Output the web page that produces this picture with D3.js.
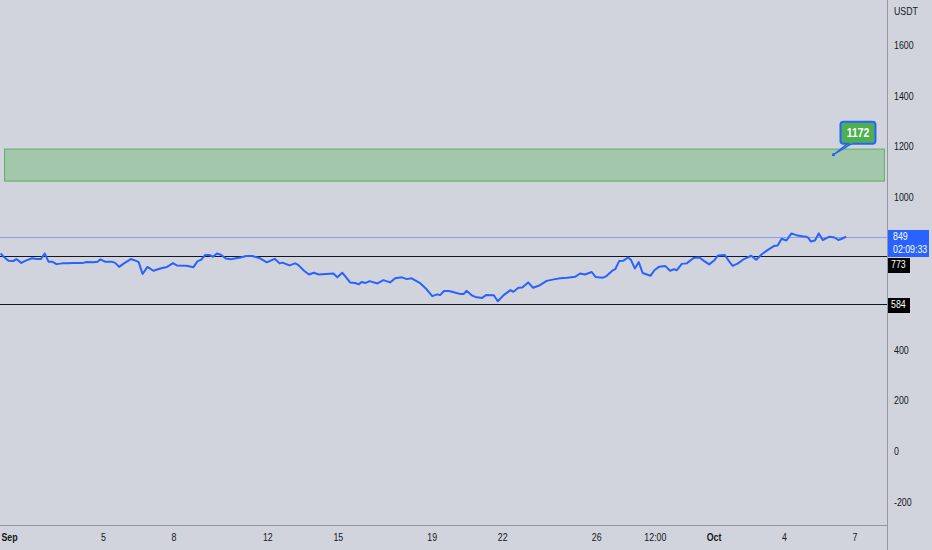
<!DOCTYPE html>
<html>
<head>
<meta charset="utf-8">
<script src="https://cdn.jsdelivr.net/npm/d3@7"></script>
<style>
  html, body { margin: 0; padding: 0; background: #d1d4dc; overflow: hidden; }
  svg { display: block; }
  text { font-family: "Liberation Sans", "DejaVu Sans", sans-serif; font-size: 11px; fill: #131722; }
</style>
</head>
<body>
<script>
// price data: hours after Sep 1 00:00 (UTC) and close price in USDT
var hours = [-9,-6,-1,4,7,12,16,23,28,32,36,40,44,48,54,59,66,74,79,86,
  90,93,98,105,108,112,117,124,130,132,136,141,147,155,161,167,171,181,188,192,
  196,200,204,208,212,216,221,226,236,242,248,256,263,271,276,279,286,292,295,301,
  306,311,316,331,335,340,343,348,353,357,360,364,368,376,382,389,394,401,406,411,
  420,426,432,437,440,444,449,456,461,464,467,472,476,483,487,495,499,505,512,515,
  520,524,530,535,542,549,556,563,570,578,583,588,595,599,606,610,616,619,623,627,
  632,635,639,643,647,655,659,664,670,675,679,682,687,692,699,705,710,715,720,724,
  731,735,739,744,751,758,763,769,775,781,785,789,794,799,804,810,814,816,819,823,
  827,831,838,843,847,850,855];
var prices = [783,770,754,753,761,746,754,764,761,761,783,750,750,741,744,744,745,745,749,748,
  750,760,750,750,746,730,744,761,753,749,702,730,715,725,730,745,736,735,729,752,
  759,777,777,770,783,778,763,760,767,773,773,764,748,762,744,747,736,744,738,715,
  700,707,700,704,689,707,694,669,667,662,671,667,674,665,678,669,685,689,682,685,
  665,643,615,622,619,635,635,628,623,623,636,619,612,608,619,618,595,619,639,632,
  648,649,669,648,658,675,681,685,687,691,704,700,710,690,687,694,715,721,753,754,
  767,758,724,749,706,695,717,731,734,715,721,717,742,744,765,767,753,740,755,775,
  777,754,734,743,762,774,758,781,797,812,814,841,834,862,855,851,849,845,830,834,
  862,836,849,846,836,840,849];

var xTickDates = ["2022-09-01T00:00Z","2022-09-05T00:00Z","2022-09-08T00:00Z","2022-09-12T00:00Z",
  "2022-09-15T00:00Z","2022-09-19T00:00Z","2022-09-22T00:00Z","2022-09-26T00:00Z",
  "2022-09-28T12:00Z","2022-10-01T00:00Z","2022-10-04T00:00Z","2022-10-07T00:00Z"];
var xTickLabels = ["Sep","5","8","12","15","19","22","26","12:00","Oct","4","7"];
var yTicks = [-200, 0, 200, 400, 600, 800, 1000, 1200, 1400, 1600];

var levels = [773, 584];          // horizontal support lines
var zoneTimes = ["2022-08-31T19:00Z", "2022-10-08T06:00Z"];
var zonePrices = [1068, 1194];    // green target zone
var calloutTime = "2022-10-06T02:00Z";
var calloutPrice = 1172;
var lastPrice = 849;
var countdown = "02:09:33";

var width = 932, height = 550;
var plotRight = 887, axisY = 525;
var squeeze = 0.8;               // the chart font is a narrow one
var t0 = Date.UTC(2022, 8, 1);

var svg = d3.select("body").append("svg")
    .attr("width", width)
    .attr("height", height);

var x = d3.scaleUtc()
    .domain([new Date("2022-09-01T00:00Z"), new Date("2022-10-07T00:00Z")])
    .range([9.5, 855]);
var y = d3.scaleLinear()
    .domain([0, 1600])
    .range([452.3, 46]);

var data = hours.map(function(h, i) {
    return { date: new Date(t0 + h * 3600e3), price: prices[i] };
});

// place a text at (px, py) with the narrow squeeze
function place(px, py) {
    return "translate(" + px + "," + py + ") scale(" + squeeze + ",1)";
}

var plot = svg.append("g").attr("class", "plot");

// green zone
plot.append("rect")
    .attr("x", x(new Date(zoneTimes[0])))
    .attr("y", y(zonePrices[1]))
    .attr("width", x(new Date(zoneTimes[1])) - x(new Date(zoneTimes[0])))
    .attr("height", y(zonePrices[0]) - y(zonePrices[1]))
    .attr("fill", "rgba(76,175,80,0.35)")
    .attr("stroke", "#5fae62")
    .attr("stroke-width", 1);

// last price line
plot.append("line")
    .attr("x1", 0).attr("x2", plotRight)
    .attr("y1", Math.round(y(lastPrice)) + 0.5).attr("y2", Math.round(y(lastPrice)) + 0.5)
    .attr("stroke", "#8e9ff0").attr("stroke-width", 1);

// support levels
plot.selectAll("line.level")
    .data(levels)
    .enter().append("line").attr("class", "level")
    .attr("x1", 0).attr("x2", plotRight)
    .attr("y1", function(d) { return Math.round(y(d)) + 0.5; })
    .attr("y2", function(d) { return Math.round(y(d)) + 0.5; })
    .attr("stroke", "#131722").attr("stroke-width", 1);

// price line
plot.append("path")
    .datum(data)
    .attr("fill", "none")
    .attr("stroke", "#2962ff")
    .attr("stroke-width", 2)
    .attr("stroke-linejoin", "round")
    .attr("d", d3.line()
        .x(function(d) { return x(d.date); })
        .y(function(d) { return y(d.price); }));

// callout 1172
var ax = x(new Date(calloutTime)), ay = y(calloutPrice);
var bx = ax + 7, by = ay - 33, bw = 35, bh = 22;
var callout = plot.append("g").attr("class", "callout");
callout.append("path")
    .attr("d", "M" + (bx + 8) + "," + (by + bh - 1) + "L" + ax + "," + ay + "L" + (bx + 13) + "," + (by + bh - 1) + "Z")
    .attr("fill", "#4caf50").attr("stroke", "#2962ff").attr("stroke-width", 1.3)
    .attr("stroke-linejoin", "round");
callout.append("rect")
    .attr("x", bx).attr("y", by).attr("width", bw).attr("height", bh)
    .attr("rx", 3)
    .attr("fill", "#4caf50").attr("stroke", "#2962ff").attr("stroke-width", 2);
callout.append("path")
    .attr("d", "M" + (bx + 9) + "," + (by + bh - 1) + "L" + (bx + 12) + "," + (by + bh - 1))
    .attr("stroke", "#4caf50").attr("stroke-width", 2);
callout.append("circle")
    .attr("cx", ax).attr("cy", ay).attr("r", 1.6).attr("fill", "#2962ff");
callout.append("text")
    .attr("transform", place(bx + bw / 2, by + bh / 2 + 1))
    .attr("text-anchor", "middle").attr("dominant-baseline", "middle")
    .style("fill", "#ffffff").style("font-weight", "bold").style("font-size", "13px")
    .text(calloutPrice);

// axes frame
svg.append("line")
    .attr("x1", 0).attr("x2", plotRight).attr("y1", axisY + 0.5).attr("y2", axisY + 0.5)
    .attr("stroke", "#9598a1").attr("stroke-width", 1);
svg.append("line")
    .attr("x1", plotRight + 0.5).attr("x2", plotRight + 0.5).attr("y1", 0).attr("y2", height)
    .attr("stroke", "#9598a1").attr("stroke-width", 1);

// time axis labels
svg.append("g").attr("class", "x axis")
    .selectAll("text")
    .data(xTickDates)
    .enter().append("text")
    .attr("transform", function(d) { return place(x(new Date(d)), 538); })
    .attr("text-anchor", "middle")
    .attr("dominant-baseline", "middle")
    .style("font-weight", function(d, i) { return (xTickLabels[i] === "Sep" || xTickLabels[i] === "Oct") ? "bold" : "normal"; })
    .text(function(d, i) { return xTickLabels[i]; });

// badges on the price axis
var lpY = Math.round(y(lastPrice)) - 7;
var badges = [{ top: lpY, bottom: lpY + 27 }];
var minTop = lpY + 28;
levels.forEach(function(v) {
    var top = Math.max(Math.round(y(v)) - 6, minTop);
    minTop = top + 16;
    badges.push({ value: v, top: top, bottom: top + 15 });
});

// price axis labels, hidden where a badge sits on them
var yAxis = svg.append("g").attr("class", "y axis");
yAxis.selectAll("text.tick")
    .data(yTicks.filter(function(d) {
        var py = y(d);
        return !badges.some(function(b) { return py > b.top - 6 && py < b.bottom + 6; });
    }))
    .enter().append("text").attr("class", "tick")
    .attr("transform", function(d) { return place(894, y(d)); })
    .attr("dominant-baseline", "middle")
    .text(function(d) { return d; });
yAxis.append("text")
    .attr("transform", place(894, 12))
    .attr("dominant-baseline", "middle")
    .text("USDT");

// last price badge
yAxis.append("rect")
    .attr("x", 888).attr("y", lpY).attr("width", 41).attr("height", 27)
    .attr("fill", "#2962ff");
yAxis.append("text")
    .attr("transform", place(893, lpY + 7.5)).attr("dominant-baseline", "middle")
    .style("fill", "#ffffff").text(lastPrice);
yAxis.append("text")
    .attr("transform", place(893, lpY + 20)).attr("dominant-baseline", "middle")
    .style("fill", "#ffffff").text(countdown);

// level badges
badges.slice(1).forEach(function(b) {
    yAxis.append("rect")
        .attr("x", 888).attr("y", b.top).attr("width", 22).attr("height", 15)
        .attr("fill", "#000000");
    yAxis.append("text")
        .attr("transform", place(891, b.top + 7.5)).attr("dominant-baseline", "middle")
        .style("fill", "#ffffff").text(b.value);
});
</script>
</body>
</html>
